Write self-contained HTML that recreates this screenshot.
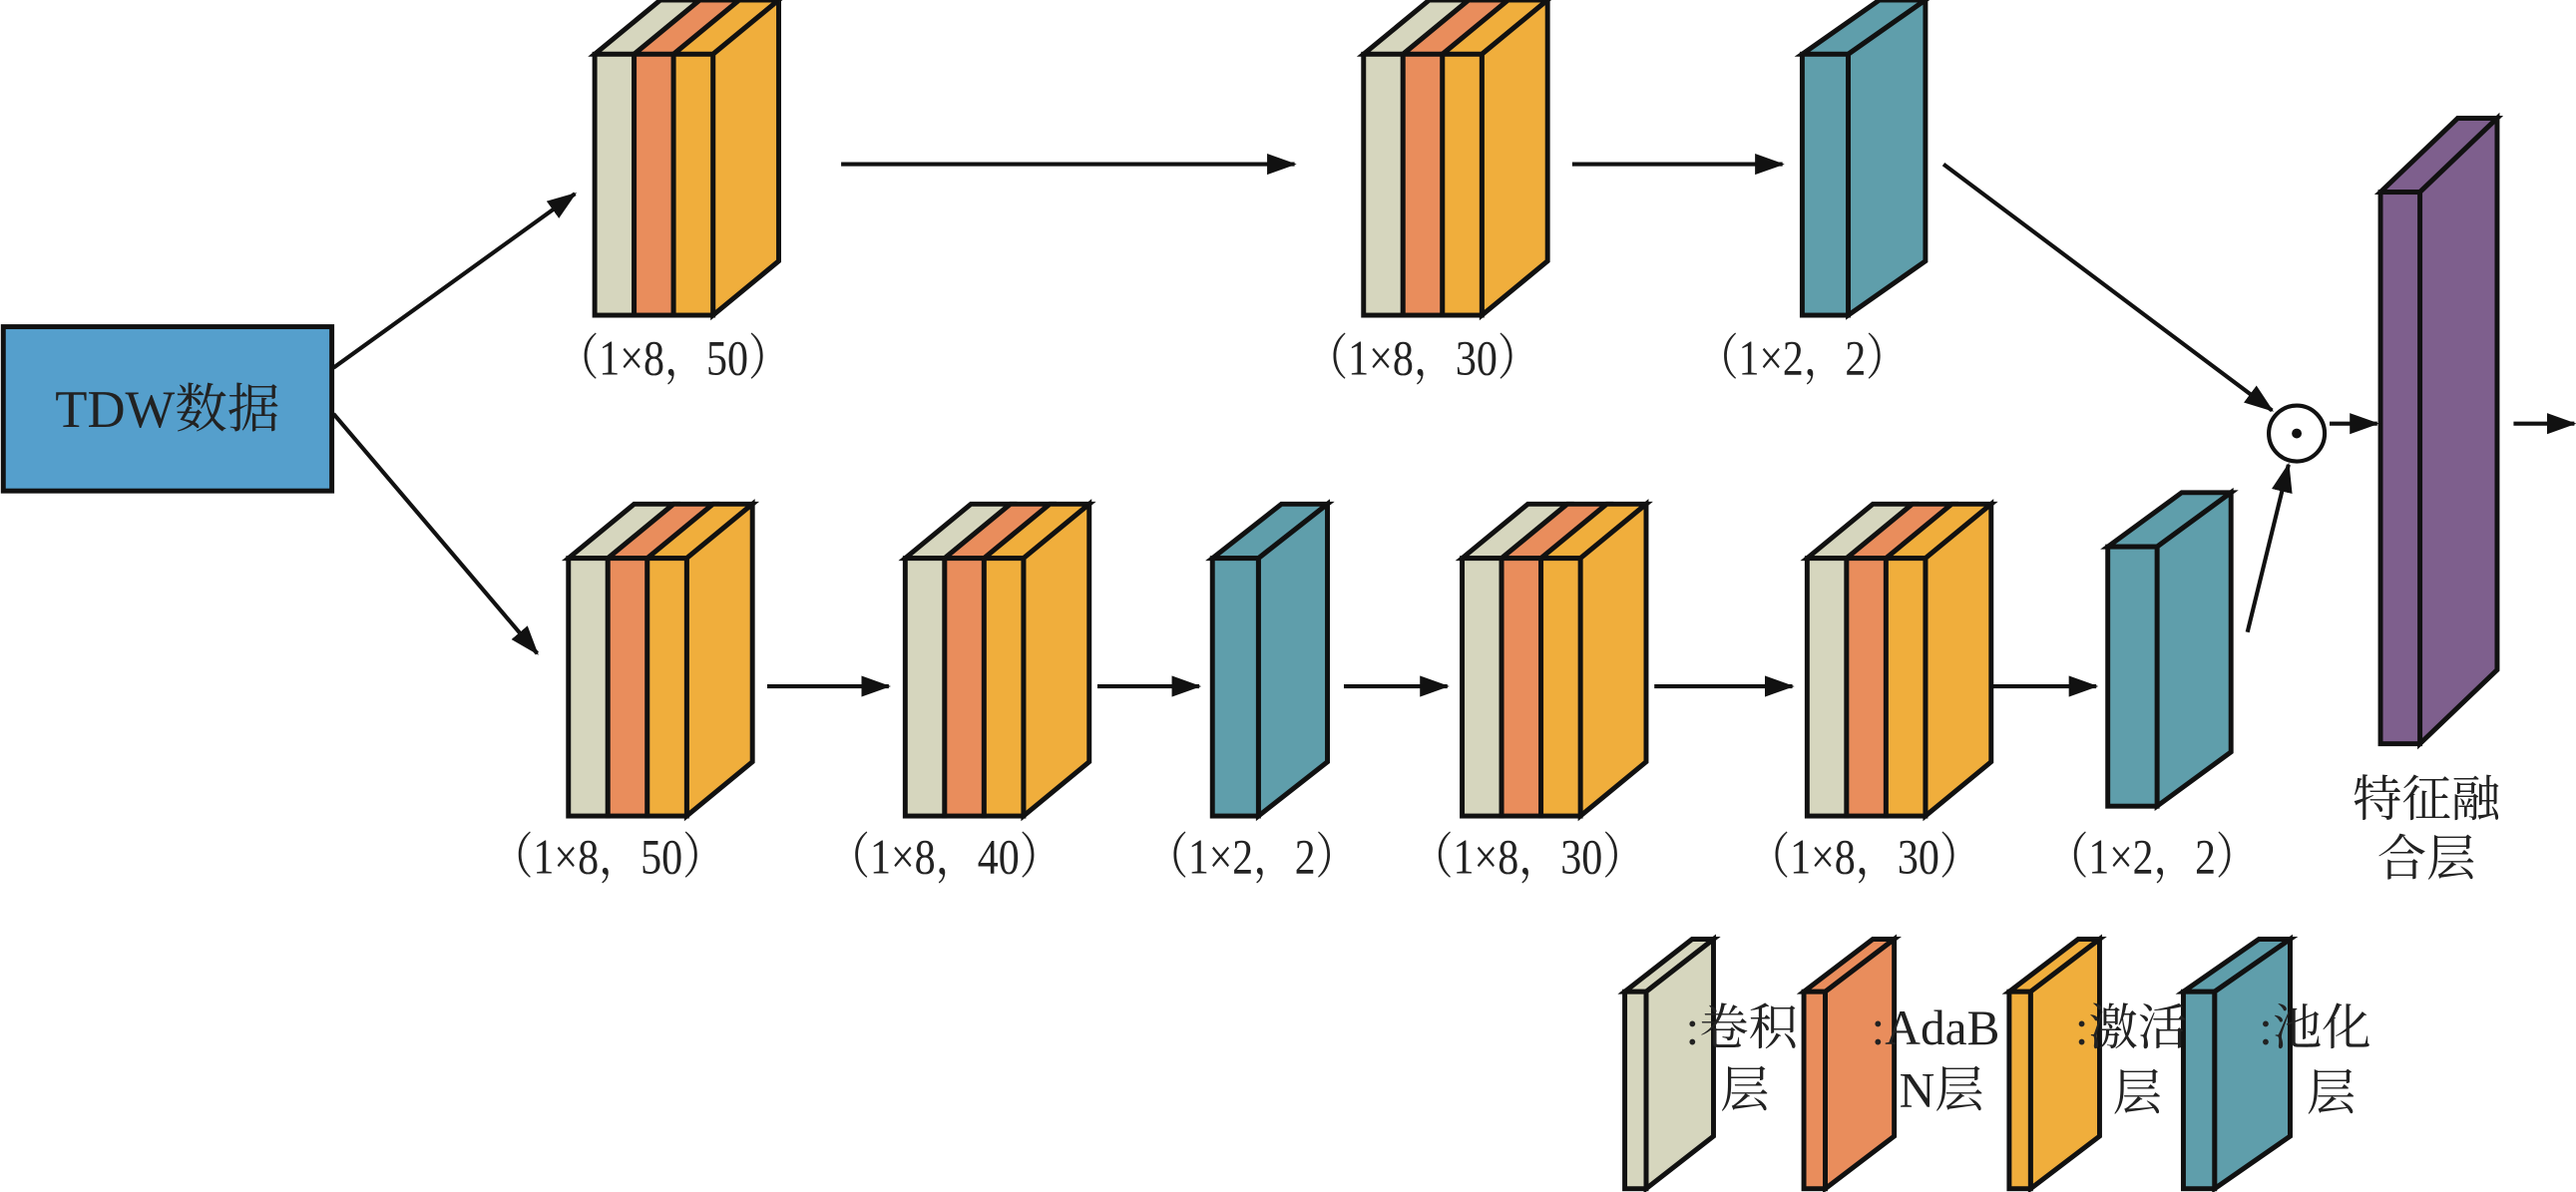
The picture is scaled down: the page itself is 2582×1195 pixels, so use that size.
<!DOCTYPE html>
<html><head><meta charset="utf-8"><style>
html,body{margin:0;padding:0;background:#fff;}
svg{display:block;}
text{font-family:"Liberation Serif","Noto Serif CJK SC","Noto Sans CJK SC",serif;fill:#222;}
</style></head><body>
<svg width="2582" height="1195" viewBox="0 0 1568 726" preserveAspectRatio="none" xmlns="http://www.w3.org/2000/svg">
<defs>
<marker id="b" viewBox="0 0 14 10" markerWidth="18" markerHeight="13" refX="13" refY="5" orient="auto" markerUnits="userSpaceOnUse"><path d="M0,0 L14,5 L0,10 z" fill="#111"/></marker></defs>
<g stroke="#111" stroke-width="3" stroke-linejoin="miter">
<rect x="2" y="199" width="200" height="100" fill="#559fcc"/>
<g>
<polygon points="362,33 386,33 426,0 402,0" fill="#d6d6be"/><polygon points="386,33 410,33 450,0 426,0" fill="#e98d5c"/><polygon points="410,33 434,33 474,0 450,0" fill="#f0ae3c"/>
<polygon points="434,33 474,0 474,159 434,192" fill="#f0ae3c"/>
<rect x="362" y="33" width="24" height="159" fill="#d6d6be"/><rect x="386" y="33" width="24" height="159" fill="#e98d5c"/><rect x="410" y="33" width="24" height="159" fill="#f0ae3c"/>
</g>
<g>
<polygon points="830,33 854,33 894,0 870,0" fill="#d6d6be"/><polygon points="854,33 878,33 918,0 894,0" fill="#e98d5c"/><polygon points="878,33 902,33 942,0 918,0" fill="#f0ae3c"/>
<polygon points="902,33 942,0 942,159 902,192" fill="#f0ae3c"/>
<rect x="830" y="33" width="24" height="159" fill="#d6d6be"/><rect x="854" y="33" width="24" height="159" fill="#e98d5c"/><rect x="878" y="33" width="24" height="159" fill="#f0ae3c"/>
</g>
<polygon points="1097,33 1125,33 1172,0 1144,0" fill="#5f9eab"/>
<polygon points="1125,33 1172,0 1172,159 1125,192" fill="#5f9eab"/>
<rect x="1097" y="33" width="28" height="159" fill="#5f9eab"/>
<g>
<polygon points="346,340 370,340 410,307 386,307" fill="#d6d6be"/><polygon points="370,340 394,340 434,307 410,307" fill="#e98d5c"/><polygon points="394,340 418,340 458,307 434,307" fill="#f0ae3c"/>
<polygon points="418,340 458,307 458,464 418,497" fill="#f0ae3c"/>
<rect x="346" y="340" width="24" height="157" fill="#d6d6be"/><rect x="370" y="340" width="24" height="157" fill="#e98d5c"/><rect x="394" y="340" width="24" height="157" fill="#f0ae3c"/>
</g>
<g>
<polygon points="551,340 575,340 615,307 591,307" fill="#d6d6be"/><polygon points="575,340 599,340 639,307 615,307" fill="#e98d5c"/><polygon points="599,340 623,340 663,307 639,307" fill="#f0ae3c"/>
<polygon points="623,340 663,307 663,464 623,497" fill="#f0ae3c"/>
<rect x="551" y="340" width="24" height="157" fill="#d6d6be"/><rect x="575" y="340" width="24" height="157" fill="#e98d5c"/><rect x="599" y="340" width="24" height="157" fill="#f0ae3c"/>
</g>
<polygon points="738,340 766,340 808,307 780,307" fill="#5f9eab"/>
<polygon points="766,340 808,307 808,464 766,497" fill="#5f9eab"/>
<rect x="738" y="340" width="28" height="157" fill="#5f9eab"/>
<g>
<polygon points="890,340 914,340 954,307 930,307" fill="#d6d6be"/><polygon points="914,340 938,340 978,307 954,307" fill="#e98d5c"/><polygon points="938,340 962,340 1002,307 978,307" fill="#f0ae3c"/>
<polygon points="962,340 1002,307 1002,464 962,497" fill="#f0ae3c"/>
<rect x="890" y="340" width="24" height="157" fill="#d6d6be"/><rect x="914" y="340" width="24" height="157" fill="#e98d5c"/><rect x="938" y="340" width="24" height="157" fill="#f0ae3c"/>
</g>
<g>
<polygon points="1100,340 1124,340 1164,307 1140,307" fill="#d6d6be"/><polygon points="1124,340 1148,340 1188,307 1164,307" fill="#e98d5c"/><polygon points="1148,340 1172,340 1212,307 1188,307" fill="#f0ae3c"/>
<polygon points="1172,340 1212,307 1212,464 1172,497" fill="#f0ae3c"/>
<rect x="1100" y="340" width="24" height="157" fill="#d6d6be"/><rect x="1124" y="340" width="24" height="157" fill="#e98d5c"/><rect x="1148" y="340" width="24" height="157" fill="#f0ae3c"/>
</g>
<polygon points="1283,333 1313,333 1358,300 1328,300" fill="#5f9eab"/>
<polygon points="1313,333 1358,300 1358,458 1313,491" fill="#5f9eab"/>
<rect x="1283" y="333" width="30" height="158" fill="#5f9eab"/>
<polygon points="1449,117 1473,117 1520,72 1496,72" fill="#7e5f8d"/>
<polygon points="1473,117 1520,72 1520,408 1473,453" fill="#7e5f8d"/>
<rect x="1449" y="117" width="24" height="336" fill="#7e5f8d"/>
<polygon points="989,604 1002,604 1043,572 1030,572" fill="#d6d6be"/><polygon points="1002,604 1043,572 1043,692 1002,724" fill="#d6d6be"/><rect x="989" y="604" width="13" height="120" fill="#d6d6be"/>
<polygon points="1098,604 1111,604 1153,572 1140,572" fill="#e98d5c"/><polygon points="1111,604 1153,572 1153,692 1111,724" fill="#e98d5c"/><rect x="1098" y="604" width="13" height="120" fill="#e98d5c"/>
<polygon points="1223,604 1236,604 1278,572 1265,572" fill="#f0ae3c"/><polygon points="1236,604 1278,572 1278,692 1236,724" fill="#f0ae3c"/><rect x="1223" y="604" width="13" height="120" fill="#f0ae3c"/>
<polygon points="1329,604 1348,604 1394,572 1375,572" fill="#5f9eab"/><polygon points="1348,604 1394,572 1394,692 1348,724" fill="#5f9eab"/><rect x="1329" y="604" width="19" height="120" fill="#5f9eab"/>
</g>
<g stroke="#111" stroke-width="2.5" fill="none" marker-end="url(#b)">
<line x1="203" y1="224" x2="350" y2="118"/>
<line x1="203" y1="252" x2="327" y2="398"/>
<line x1="512" y1="100" x2="788" y2="100"/>
<line x1="957" y1="100" x2="1085" y2="100"/>
<line x1="1183" y1="100" x2="1383" y2="250"/>
<line x1="1368" y1="385" x2="1393" y2="283"/>
<line x1="1418" y1="258" x2="1447" y2="258"/>
<line x1="1530" y1="258" x2="1567" y2="258"/>
<line x1="467" y1="418" x2="541" y2="418"/>
<line x1="668" y1="418" x2="730" y2="418"/>
<line x1="818" y1="418" x2="881" y2="418"/>
<line x1="1007" y1="418" x2="1091" y2="418"/>
<line x1="1213" y1="418" x2="1276" y2="418"/>
</g>
<circle cx="1398" cy="264" r="17" fill="#fff" stroke="#111" stroke-width="2.5"/>
<circle cx="1398" cy="264" r="3" fill="#111"/>
<text x="102" y="260" font-size="32" text-anchor="middle">TDW数据</text>
<g font-size="30" text-anchor="middle">
<text x="410" y="228" textLength="142" lengthAdjust="spacingAndGlyphs">（1×8，50）</text>
<text x="866" y="228" textLength="142" lengthAdjust="spacingAndGlyphs">（1×8，30）</text>
<text x="1097" y="228" textLength="128" lengthAdjust="spacingAndGlyphs">（1×2，2）</text>
<text x="370" y="532" textLength="142" lengthAdjust="spacingAndGlyphs">（1×8，50）</text>
<text x="575" y="532" textLength="142" lengthAdjust="spacingAndGlyphs">（1×8，40）</text>
<text x="762" y="532" textLength="128" lengthAdjust="spacingAndGlyphs">（1×2，2）</text>
<text x="930" y="532" textLength="142" lengthAdjust="spacingAndGlyphs">（1×8，30）</text>
<text x="1135" y="532" textLength="142" lengthAdjust="spacingAndGlyphs">（1×8，30）</text>
<text x="1310" y="532" textLength="128" lengthAdjust="spacingAndGlyphs">（1×2，2）</text>
<text x="1477" y="497">特征融</text>
<text x="1477" y="533">合层</text>
</g>
<g font-size="30">
<text x="1026" y="636">:卷积</text><text x="1047" y="674">层</text>
<text x="1139" y="636">:AdaB</text><text x="1156" y="674">N层</text>
<text x="1263" y="636">:激活</text><text x="1286" y="676">层</text>
<text x="1375" y="636">:池化</text><text x="1404" y="676">层</text>
</g>
</svg>
</body></html>
